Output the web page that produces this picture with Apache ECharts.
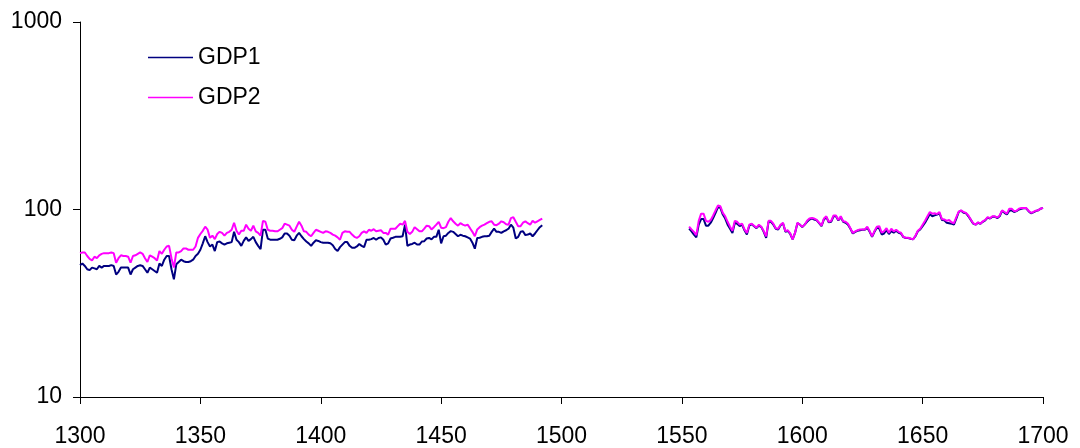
<!DOCTYPE html>
<html>
<head>
<meta charset="utf-8">
<title>GDP1 / GDP2</title>
<script src="https://cdn.jsdelivr.net/npm/echarts@6/dist/echarts.min.js"></script>
<style>
  html, body { margin: 0; padding: 0; background: #fff; }
  #chart { width: 1080px; height: 448px; }
</style>
</head>
<body>
<div id="chart"></div>
<script>
// Yearly series, two stretches of years with a gap between them
const firstStart = 1300;   // 1300–1492
const secondStart = 1553;  // 1553–1700

const gdp1First = [
  50.4, 51.5, 50, 48, 47.5, 49, 48.5, 48, 50, 49,
  50, 50, 50, 50.5, 50, 45, 46.5, 49, 49, 49,
  49, 45, 48, 49, 50, 50.4, 50, 48, 46, 49,
  48, 47, 46, 51.5, 50, 54, 56.5, 56.5, 48, 42.4,
  51, 52.5, 54, 53, 52.5, 52.5, 53, 54, 56.5, 58,
  61, 66, 72, 67, 63.5, 65, 60, 67, 67.5, 66,
  65, 66, 66.5, 67, 76, 69,
  67, 64, 68, 71, 68, 69.5, 71.5, 67, 64, 61.5,
  78, 78, 70, 69, 69, 69, 69, 69.8, 71, 74.5,
  74.5, 72.5, 69, 68.5, 72.5, 75, 72, 69.5, 67.5, 66,
  64, 66.5, 68.5, 68, 67, 66.5, 66.5, 66.5, 66, 64.5,
  61.5, 60, 63, 65, 67, 67, 64, 62.5, 62.5, 63.5,
  65.5, 64, 63, 69, 69, 69.5, 70.5, 69, 70.5, 71,
  69, 65, 66,
  70, 70.7, 71.5, 71.5, 71.5, 72, 83, 64, 65, 65.5,
  66.5, 65, 65, 67.5, 67.8, 70, 70.5, 69.3, 71.5, 71.5,
  78, 66, 72, 72.5, 75, 76.7, 76, 74, 72, 73.3,
  72.5, 72, 71, 70, 66.5, 61.8, 70.5, 70.7, 71.5, 72,
  72, 72.5, 76, 79, 76, 76, 75, 76.5, 77.5, 79,
  83, 80, 70, 71.5, 76, 76.5, 73, 73.5, 74.5, 72,
  74.5, 77.5, 80.5, 82.5
];

const gdp2First = [
  58.5, 59, 59, 56.5, 54.5, 53.5, 56, 55, 57, 58,
  58.5, 58.5, 58.5, 59, 58.5, 52, 55, 57, 56.5, 56.5,
  56, 52, 56.5, 57, 58, 59, 58, 55, 52.5, 57,
  56, 55, 53.5, 60, 58, 61, 63.5, 64, 55, 49,
  59, 59, 60, 62, 62, 61, 61, 61, 63.5, 70.6,
  74, 77, 81, 78, 70.6, 72.5, 69.5, 74, 76, 75,
  72.5, 75, 76, 78, 85, 77,
  73.6, 77, 77, 83, 79, 77, 82, 76.5, 75, 72.5,
  87, 86, 78, 77, 77, 76.5, 76.5, 78, 79.5, 84,
  83, 82, 78, 76, 81, 86, 82, 76.5, 76, 73.5,
  72, 75, 78, 77, 76, 75, 76.5, 76, 75, 73.5,
  72.5, 71, 69, 75, 76.5, 76, 76, 73.5, 71.5, 70.5,
  72, 75, 76.5, 75, 78, 77, 78.5, 76.5, 77, 77.5,
  75, 75, 73.5,
  79, 79, 79, 81.5, 84, 83, 87, 76, 74, 76,
  80.5, 78.5, 76.5, 76.5, 79, 82, 81.5, 78.3, 80.5, 83,
  86, 80, 79.5, 80.5, 86, 90, 86.5, 84, 82, 84.5,
  83, 82, 83, 79.5, 76, 72, 78.3, 80.5, 82, 83,
  84.5, 86, 86.5, 83, 82.5, 84, 86.5, 85.5, 83.5, 83,
  90, 91, 86, 81.5, 81.5, 85, 86.5, 84.5, 83, 87,
  85, 86.5, 88, 89.5
];

const gdp1Second = [
  79, 76.5, 73.5, 71, 83, 89, 89, 82, 82, 85,
  90, 96, 103, 102, 94, 89.5, 83, 79, 75, 85,
  84, 81.5, 83, 77.5, 73.6, 82, 83.5, 81.5, 79.5, 82,
  80.5, 76, 70.5, 86, 86, 83, 79, 78.3, 82.5, 84.5,
  76, 77, 74, 69.3, 75, 84.5, 83, 80.5, 83, 86,
  88.5, 89.5, 88.5, 87.5, 84.5, 81.5, 88.5, 91, 85.5, 86,
  92, 92, 87.5, 91, 86, 85, 83, 79, 74.5, 76,
  77, 77.5, 78, 78, 80, 76, 71.5, 76, 80, 79,
  73.6, 74.5, 77.5, 74, 76.7, 75.2, 77, 75.2, 74.5, 71.2,
  70.5, 70.5, 69.8, 69.3, 72, 76.5, 78.3, 81.5, 85, 89.5,
  94.5, 92, 93, 94, 95.5, 88, 87.5, 85, 84.5, 84,
  83, 89.5, 97, 98.5, 96, 95.5, 92, 88, 84, 83,
  85, 84, 86, 87.5, 90.5, 89.5, 91.5, 91.5, 90, 92,
  98.5, 96, 94, 98.5, 99, 97, 98, 100, 101, 101.5,
  101.5, 98, 95.5, 96.5, 98, 99, 101, 102
];

const gdp2Second = [
  81, 78.3, 76, 73, 87, 95, 95, 87, 86, 88,
  93, 99, 105, 104, 96, 92, 86, 81, 77, 87,
  86, 83, 84, 78.3, 75, 83, 84, 82, 80, 83,
  81, 76.7, 72, 87, 87, 84, 79.5, 79, 83, 85,
  76.7, 77.5, 74.5, 69.3, 75, 85, 83, 81, 83, 87,
  89.5, 90, 89.5, 88, 85, 82, 89.5, 92, 86, 87,
  93, 93, 88, 92, 86.5, 86, 84, 79.5, 75, 76.5,
  77.5, 78.3, 78.3, 78.3, 81, 76.7, 72, 76.7, 81, 81.5,
  75.2, 76.7, 79.5, 75.2, 79, 76.5, 78, 76, 75.2, 71.5,
  70.7, 70.7, 70, 69.3, 72.5, 77, 79, 83, 87, 92,
  97, 95, 95.5, 94.5, 97, 89, 88.5, 87, 88, 85.5,
  84.5, 91, 97.5, 99, 97, 96, 93, 88.5, 84.5, 83,
  85.5, 84, 86.5, 88, 91, 90, 92, 92, 90.5, 93,
  99, 97, 95, 101, 101, 98, 98.5, 101, 102, 102,
  102, 98.5, 96, 97, 98.5, 99, 101, 102
];

const xTicks = { min: 1300, max: 1700, interval: 50 };
const yTicks = { min: 10, max: 1000 };

// Pair every value with its year; one empty point breaks the line over the gap
function buildSeries(first, second) {
  const pts = first.map((v, i) => [firstStart + i, v]);
  pts.push([Math.round((firstStart + first.length + secondStart) / 2), '-']);
  second.forEach((v, i) => pts.push([secondStart + i, v]));
  return pts;
}

const FONT = '"Liberation Sans", Arial, sans-serif';
const plain = v => String(Math.round(v));
const chart = echarts.init(document.getElementById('chart'), null, { renderer: 'canvas' });

chart.setOption({
  animation: false,
  backgroundColor: '#ffffff',
  grid: { left: 80, right: 37, top: 22, bottom: 50, containLabel: false },
  legend: {
    orient: 'vertical',
    left: 143,
    top: 41,
    itemWidth: 45,
    itemHeight: 1.5,
    itemGap: 17,
    data: [{ name: 'GDP1', icon: 'rect' }, { name: 'GDP2', icon: 'rect' }],
    textStyle: { fontFamily: FONT, fontSize: 23, color: '#000' }
  },
  xAxis: {
    type: 'value',
    min: xTicks.min,
    max: xTicks.max,
    interval: xTicks.interval,
    splitLine: { show: false },
    axisLine: { lineStyle: { color: '#000', width: 1 } },
    axisTick: { show: true, inside: false, length: 7, lineStyle: { color: '#000', width: 1 } },
    axisLabel: { margin: 28, formatter: plain, fontFamily: FONT, fontSize: 23, color: '#000' }
  },
  yAxis: {
    type: 'log',
    logBase: 10,
    min: yTicks.min,
    max: yTicks.max,
    splitLine: { show: false },
    minorTick: { show: false },
    axisLine: { show: true, lineStyle: { color: '#000', width: 1 } },
    axisTick: { show: true, inside: false, length: 7, lineStyle: { color: '#000', width: 1 } },
    axisLabel: { margin: 18, formatter: plain, fontFamily: FONT, fontSize: 23, color: '#000' }
  },
  series: [
    {
      name: 'GDP1',
      type: 'line',
      data: buildSeries(gdp1First, gdp1Second),
      showSymbol: false,
      symbol: 'none',
      connectNulls: false,
      color: '#000080',
      lineStyle: { color: '#000080', width: 2 }
    },
    {
      name: 'GDP2',
      type: 'line',
      data: buildSeries(gdp2First, gdp2Second),
      showSymbol: false,
      symbol: 'none',
      connectNulls: false,
      color: '#ff00ff',
      lineStyle: { color: '#ff00ff', width: 2 }
    }
  ]
});
</script>
</body>
</html>
